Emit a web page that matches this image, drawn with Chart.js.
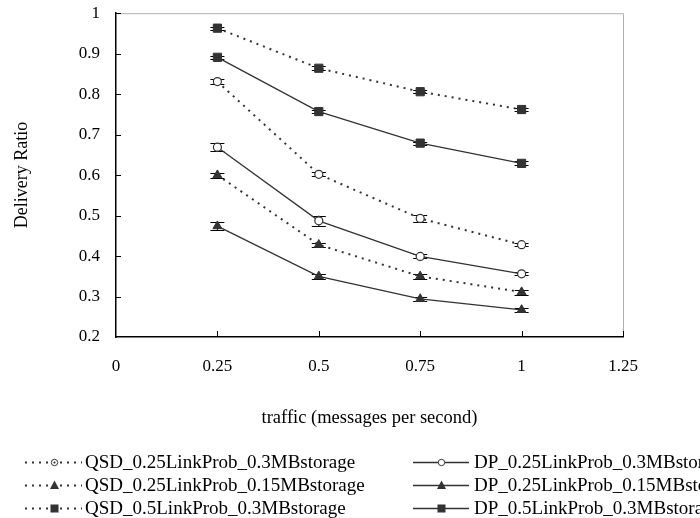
<!DOCTYPE html>
<html><head><meta charset="utf-8">
<script src="https://cdn.jsdelivr.net/npm/chart.js@4.4.1/dist/chart.umd.min.js"></script>
<style>
html,body{margin:0;padding:0;background:#fff;width:700px;height:518px;overflow:hidden;}
#wrap{position:relative;width:700px;height:518px;overflow:hidden;}
#c{position:absolute;left:0;top:-13px;}
#legend{position:absolute;left:0;top:0;width:700px;height:518px;overflow:hidden;font-family:"Liberation Serif",serif;font-size:19px;color:#000;pointer-events:none;}
.item{position:absolute;white-space:nowrap;height:22px;line-height:22px;display:flex;align-items:center;}
</style></head>
<body><div id="wrap"><canvas id="c" width="700" height="453" style="width:700px;height:453px"></canvas><div id="legend"></div></div>
<script>
// ---- data ----
const xValues = [0.25, 0.5, 0.75, 1];
const seriesLabels = [
  "QSD_0.25LinkProb_0.3MBstorage",
  "DP_0.25LinkProb_0.3MBstorage",
  "QSD_0.25LinkProb_0.15MBstorage",
  "DP_0.25LinkProb_0.15MBstorage",
  "QSD_0.5LinkProb_0.3MBstorage",
  "DP_0.5LinkProb_0.3MBstorage"
];
const qsd025_03  = [0.831, 0.602, 0.493, 0.428];
const dp025_03   = [0.669, 0.487, 0.399, 0.356];
const qsd025_015 = [0.600, 0.428, 0.350, 0.311];
const dp025_015  = [0.474, 0.350, 0.294, 0.267];
const qsd05_03   = [0.963, 0.864, 0.806, 0.762];
const dp05_03    = [0.891, 0.757, 0.679, 0.629];
const err_qsd025_03  = [0.006, 0.005, 0.008, 0.004];
const err_dp025_03   = [0.010, 0.013, 0.005, 0.004];
const err_qsd025_015 = [0.006, 0.005, 0.006, 0.006];
const err_dp025_015  = [0.010, 0.006, 0.005, 0.004];
const err_qsd05_03   = [0.004, 0.005, 0.004, 0.004];
const err_dp05_03    = [0.004, 0.004, 0.004, 0.005];
const xTickLabels = ["0", "0.25", "0.5", "0.75", "1", "1.25"];
const yTickLabels = ["0.2", "0.3", "0.4", "0.5", "0.6", "0.7", "0.8", "0.9", "1"];

const values = [qsd025_03, dp025_03, qsd025_015, dp025_015, qsd05_03, dp05_03];
const errs = [err_qsd025_03, err_dp025_03, err_qsd025_015, err_dp025_015, err_qsd05_03, err_dp05_03];

const INK = '#333333';
const styles = [
  {dotted:true,  shape:'circle'},
  {dotted:false, shape:'circle'},
  {dotted:true,  shape:'triangle'},
  {dotted:false, shape:'triangle'},
  {dotted:true,  shape:'rect'},
  {dotted:false, shape:'rect'}
];
function radiusFor(s){ return s==='circle'?4:(s==='triangle'?5.2:5.8); }

const datasets = values.map((arr, k) => {
  const st = styles[k];
  return {
    label: seriesLabels[k],
    data: xValues.map((x, i) => ({x: x, y: arr[i]})),
    errors: errs[k],
    borderColor: INK,
    borderWidth: st.dotted ? 2 : 1.3,
    borderDash: st.dotted ? [2, 5] : [],
    pointStyle: st.shape,
    pointRadius: radiusFor(st.shape),
    pointHoverRadius: radiusFor(st.shape),
    pointBackgroundColor: st.shape === 'circle' ? '#ffffff' : INK,
    pointBorderColor: INK,
    pointBorderWidth: st.shape === 'circle' ? 1.2 : 1,
    fill: false,
    tension: 0
  };
});

const framePlugin = {
  id: 'frame',
  beforeDatasetsDraw(chart) {
    const ctx = chart.ctx, a = chart.chartArea;
    const xs = chart.scales.x, ys = chart.scales.y;
    ctx.save();
    ctx.strokeStyle = '#b0b0b0'; ctx.lineWidth = 1;
    ctx.beginPath();
    ctx.moveTo(a.left, a.top + 0.5); ctx.lineTo(a.right + 0.5, a.top + 0.5); ctx.lineTo(a.right + 0.5, a.bottom);
    ctx.stroke();
    ctx.strokeStyle = '#000'; ctx.lineWidth = 1;
    ctx.beginPath();
    xs.ticks.forEach(t => {
      if (t.value <= 0) return;
      const px = Math.round(xs.getPixelForValue(t.value)) + 0.5;
      ctx.moveTo(px, a.bottom); ctx.lineTo(px, a.bottom - 6);
    });
    ys.ticks.forEach(t => {
      if (t.value <= 0.2001) return;
      const py = Math.round(ys.getPixelForValue(t.value)) + 0.5;
      ctx.moveTo(a.left, py); ctx.lineTo(a.left + 5, py);
    });
    ctx.stroke();
    ctx.strokeStyle = '#000'; ctx.lineWidth = 1;
    chart.data.datasets.forEach(ds => {
      ds.data.forEach((p, i) => {
        const e = ds.errors[i];
        const px = xs.getPixelForValue(p.x);
        const y1 = ys.getPixelForValue(p.y + e), y2 = ys.getPixelForValue(p.y - e);
        ctx.beginPath();
        ctx.moveTo(px, y1); ctx.lineTo(px, y2);
        ctx.moveTo(px - 7, Math.round(y1) + 0.5); ctx.lineTo(px + 7, Math.round(y1) + 0.5);
        ctx.moveTo(px - 7, Math.round(y2) + 0.5); ctx.lineTo(px + 7, Math.round(y2) + 0.5);
        ctx.stroke();
      });
    });
    ctx.restore();
  }
};

const FONT = "'Liberation Serif', serif";
const chart = new Chart(document.getElementById('c'), {
  type: 'line',
  data: { datasets: datasets },
  options: {
    responsive: false,
    animation: false,
    layout: { padding: { left: 0, right: 77, top: 1, bottom: 0 } },
    plugins: { legend: { display: false }, tooltip: { enabled: false } },
    scales: {
      x: {
        type: 'linear', min: 0, max: 1.25,
        afterFit(s) { s.height = 453 - 350; },
        afterBuildTicks(s) { s.ticks = xTickLabels.map(v => ({value: parseFloat(v)})); },
        ticks: { stepSize: 0.25, color: '#000', font: { family: FONT, size: 17 }, padding: 19,
                 callback: (v, i) => xTickLabels[i] },
        grid: { display: false, drawTicks: false },
        border: { display: true, color: '#000', width: 1.5 },
        title: { display: true, text: 'traffic (messages per second)', color: '#000',
                 font: { family: FONT, size: 18.5 }, padding: { top: 0, bottom: 11 } }
      },
      y: {
        type: 'linear', min: 0.2, max: 1,
        afterFit(s) { s.width = 116; },
        afterBuildTicks(s) { s.ticks = yTickLabels.map(v => ({value: parseFloat(v)})); },
        ticks: { stepSize: 0.1, color: '#000', font: { family: FONT, size: 17 }, padding: 16,
                 callback: (v, i) => yTickLabels[i] },
        grid: { display: false, drawTicks: false },
        border: { display: true, color: '#000', width: 1.5 },
        title: { display: true, text: 'Delivery Ratio', color: '#000',
                 font: { family: FONT, size: 18 }, padding: { top: 11, bottom: 0 } }
      }
    }
  },
  plugins: [framePlugin]
});

// ---- HTML legend built from the datasets ----
const legend = document.getElementById('legend');
const colX = [{sx: 25, ex: 82, tx: 85}, {sx: 413, ex: 469, tx: 474}];
const rowY = [462, 485, 508];
datasets.forEach((ds, k) => {
  const col = k % 2, row = Math.floor(k / 2);
  const item = document.createElement('div');
  item.className = 'item';
  item.style.left = colX[col].sx + 'px';
  item.style.top = (rowY[row] - 11) + 'px';
  const w = colX[col].ex - colX[col].sx;
  const st = styles[k];
  const c = document.createElement('canvas');
  c.width = w; c.height = 22; c.style.marginRight = (colX[col].tx - colX[col].ex) + 'px';
  c.style.display = 'block';
  const g = c.getContext('2d');
  g.strokeStyle = INK; g.lineWidth = st.dotted ? 2 : 1.3;
  g.setLineDash(st.dotted ? [2, 5] : []);
  g.beginPath(); g.moveTo(0, 11.5); g.lineTo(w, 11.5); g.stroke();
  g.setLineDash([]);
  const cx = Math.round(w / 2) + 0.5, cy = 11.5;
  g.fillStyle = st.shape === 'circle' ? '#fff' : INK;
  g.lineWidth = 1;
  if (st.shape === 'circle') {
    g.beginPath(); g.arc(cx, cy, 3.2, 0, Math.PI * 2); g.fill(); g.stroke();
    if (st.dotted) { g.beginPath(); g.arc(cx, cy, 1.1, 0, Math.PI * 2); g.fillStyle = INK; g.fill(); }
  } else if (st.shape === 'triangle') {
    g.beginPath(); g.moveTo(cx, cy - 5); g.lineTo(cx + 4.5, cy + 3.5); g.lineTo(cx - 4.5, cy + 3.5); g.closePath(); g.fill();
  } else {
    g.fillRect(cx - 4, cy - 4, 8, 8);
  }
  item.appendChild(c);
  const span = document.createElement('span');
  span.textContent = ds.label;
  item.appendChild(span);
  legend.appendChild(item);
});
</script>
</body></html>
